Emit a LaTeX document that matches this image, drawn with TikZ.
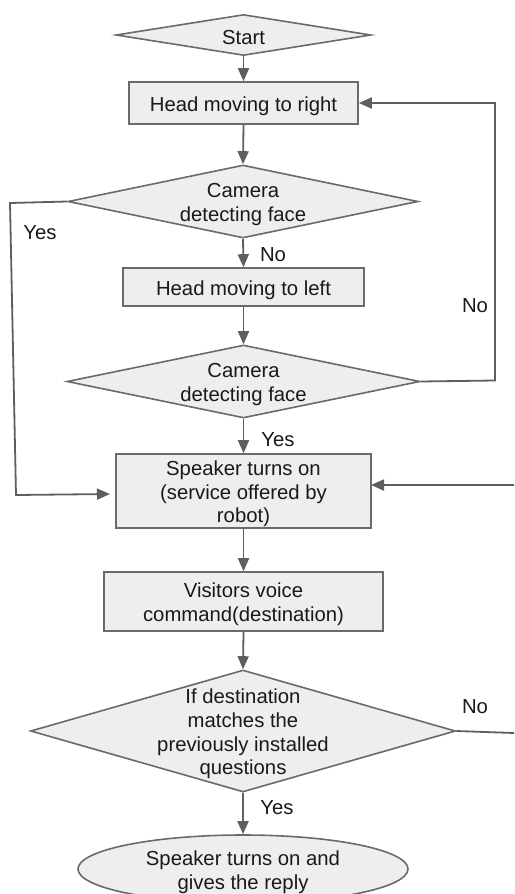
\documentclass[tikz,border=0pt]{standalone}
\usepackage{fontspec}
\setmainfont{Liberation Sans}
\usetikzlibrary{shapes.geometric,arrows.meta,calc}
\definecolor{boxfill}{HTML}{EEEEEE}
\definecolor{boxline}{HTML}{6A6A6A}
\definecolor{conn}{HTML}{5E5E5E}
\begin{document}
\begin{tikzpicture}[x=1pt,y=-1pt,
  font=\fontsize{20.3}{23.7}\selectfont,
  every node/.style={text=black!90},
  procbox/.style={draw=boxline,line width=1.6pt,fill=boxfill,rectangle,inner sep=0pt},
  decbox/.style={draw=boxline,line width=1.6pt,fill=boxfill,diamond,inner sep=0pt},
  endbox/.style={draw=boxline,line width=1.6pt,fill=boxfill,ellipse,inner sep=0pt},
  txt/.style={align=center,inner sep=0pt,yshift=-3pt},
  lbl/.style={inner sep=0pt},
  conn/.style={draw=conn,line width=1.8pt},
  arr/.style={conn,-{Triangle[length=13pt,width=11pt]}}]
\useasboundingbox (0,0) rectangle (514,894);
% shapes
\node[decbox,minimum width=255pt,minimum height=41pt] (st) at (243.5,35) {};
\node[procbox,minimum width=229pt,minimum height=42pt] (hr) at (243.5,103) {};
\node[decbox,minimum width=350pt,minimum height=73pt] (d1) at (243,201.5) {};
\node[procbox,minimum width=241pt,minimum height=38pt] (hl) at (243.5,287) {};
\node[decbox,minimum width=353pt,minimum height=73pt] (d2) at (243.5,381.5) {};
\node[procbox,minimum width=255pt,minimum height=74pt] (sp) at (243.5,491) {};
\node[procbox,minimum width=279pt,minimum height=59pt] (vc) at (243.5,601.5) {};
\node[decbox,minimum width=425pt,minimum height=122pt] (d3) at (243,731) {};
\node[endbox,minimum width=330pt,minimum height=68pt] (el) at (243,869) {};
% texts
\node[txt] (stt) at (st.center) {Start};
\node[txt] (hrt) at (hr.center) {Head moving to right};
\node[txt] (d1t) at (d1.center) {Camera\\detecting face};
\node[txt] (hlt) at (hl.center) {Head moving to left};
\node[txt] (d2t) at (d2.center) {Camera\\detecting face};
\node[txt] (spt) at (sp.center) {Speaker turns on\\(service offered by\\robot)};
\node[txt] (vct) at (vc.center) {Visitors voice\\command(destination)};
\node[txt] (d3t) at (d3.center) {If destination\\matches the\\previously installed\\questions};
\node[txt] (elt) at (243,869) {Speaker turns on and\\gives the reply};
% labels
\node[lbl] (l1) at (40,233) {Yes};
\node[lbl] (l2) at (273,255) {No};
\node[lbl] (l3) at (475,306) {No};
\node[lbl] (l4) at (278,440) {Yes};
\node[lbl] (l5) at (475,707) {No};
\node[lbl] (l6) at (277,808) {Yes};
% helper coordinates
\coordinate (a1) at (10,203);
\coordinate (a2) at (16,495);
\coordinate (a3) at (110,494);
\coordinate (b1) at (495,380.5);
\coordinate (b2) at (495,103);
\coordinate (c1) at (514,485);
\coordinate (c2) at (371,485);
\coordinate (e1) at (514,733);
% connectors
\draw[arr] (st.south) -- (hr.north);
\draw[arr] (hr.south) -- (d1.north);
\draw[arr] (d1.south) -- (hl.north);
\draw[arr] (hl.south) -- (d2.north);
\draw[arr] (d2.south) -- (sp.north);
\draw[arr] (sp.south) -- (vc.north);
\draw[arr] (vc.south) -- (d3.north);
\draw[arr] (d3.south) -- (el.north);
\draw[arr] (d1.west) -- (a1) -- (a2) -- (a3);
\draw[arr] (d2.east) -- (b1) -- (b2) -- (hr.east);
\draw[arr] (c1) -- (c2);
\draw[conn] (d3.east) -- (e1);
\end{tikzpicture}
\end{document}
